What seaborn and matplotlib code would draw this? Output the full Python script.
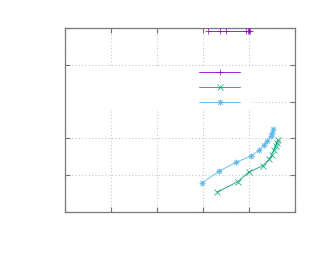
import matplotlib
matplotlib.use("Agg")
import matplotlib.pyplot as plt
from matplotlib.patches import Rectangle
import pandas as pd
import seaborn as sns

# series values (no tick labels shown, grid units 0..5)
purple_x = [3.10, 3.37, 3.50, 3.93, 3.97, 4.00, 4.03]
purple_y = [4.91, 4.91, 4.91, 4.91, 4.91, 4.91, 4.91]

green_x = [3.31, 3.75, 3.99, 4.30, 4.44, 4.49, 4.54, 4.58, 4.60, 4.63]
green_y = [0.54, 0.82, 1.08, 1.26, 1.43, 1.55, 1.68, 1.80, 1.88, 1.96]

blue_x = [2.97, 3.35, 3.72, 4.04, 4.22, 4.33, 4.40, 4.47, 4.50, 4.53]
blue_y = [0.78, 1.11, 1.35, 1.52, 1.68, 1.82, 1.94, 2.07, 2.15, 2.25]

ticks = [0, 1, 2, 3, 4, 5]

series = [
    ("a", purple_x, purple_y, "#9400d3", "+"),
    ("b", green_x, green_y, "#009e73", "x"),
    ("c", blue_x, blue_y, "#56b4e9", (8, 2, 0)),
]

sns.set_style("white")
fig = plt.figure(figsize=(3.22, 2.75), dpi=100)
ax = fig.add_axes([0.2019, 0.2291, 0.7143, 0.6691])

handles = []
for name, xs, ys, col, mk in series:
    df = pd.DataFrame({"x": xs, "y": ys})
    sns.lineplot(data=df, x="x", y="y", sort=False, estimator=None, ax=ax,
                 color=col, linewidth=0.7, alpha=0.85, marker=mk, markersize=4,
                 markeredgewidth=0.6, markeredgecolor=col, zorder=3)
    handles.append(ax.lines[-1])

ax.set_xlim(0, 5)
ax.set_ylim(0, 5)
ax.set_xticks(ticks)
ax.set_yticks(ticks)
ax.set_xticklabels([])
ax.set_yticklabels([])
ax.set_xlabel("")
ax.set_ylabel("")
ax.set_axisbelow(True)
ax.grid(True, color="#c8c8c8", linestyle=(0, (1, 2)), linewidth=0.8)
ax.tick_params(direction="in", length=3.3, width=0.8, color="#707070",
               top=True, right=True, bottom=True, left=True)
for sp in ax.spines.values():
    sp.set_color("#7a7a7a")
    sp.set_linewidth(0.9)

# white key box hides the grid behind the legend
ax.add_patch(Rectangle((0, 0.554), 0.804, 0.239, transform=ax.transAxes,
                       facecolor="white", edgecolor="none", zorder=1))

ax.legend(handles, ["", "", ""], loc="center", bbox_to_anchor=(0.672, 0.672),
          frameon=False, fontsize=10, handlelength=2.95, handleheight=1.0,
          handletextpad=0, labelspacing=0.09, borderpad=0, borderaxespad=0)

fig.savefig("out.png", dpi=100)
plt.close(fig)
